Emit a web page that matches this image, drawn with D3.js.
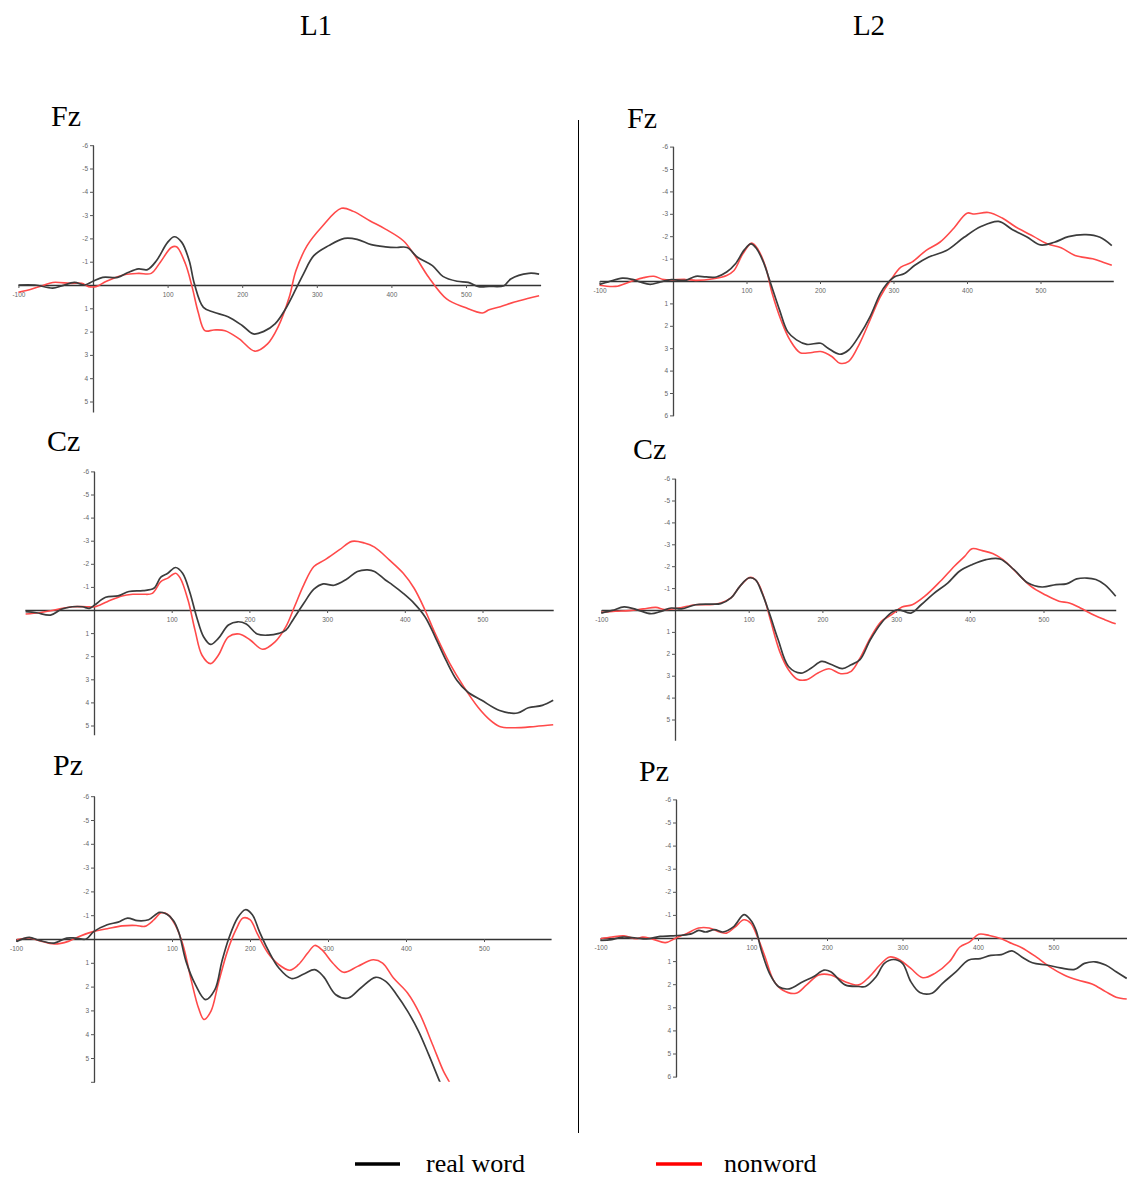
<!DOCTYPE html>
<html>
<head>
<meta charset="utf-8">
<script src="https://cdn.jsdelivr.net/npm/d3@7/dist/d3.min.js"></script>
<style>
  html, body { margin: 0; padding: 0; background: #fff; }
  svg { display: block; }
</style>
</head>
<body>
<svg id="chart" width="1127" height="1178"></svg>
<script>
// ERP waveforms, amplitude in µV (negative plotted up), time in ms.
// Each series is a list of [time, amplitude] samples.

const groups = ["L1", "L2"];
const electrodes = ["Fz", "Cz", "Pz"];
const legendLabels = ["real word", "nonword"];
const xTickValues = [-100, 100, 200, 300, 400, 500];

const l1FzReal = [[-100,0],[-78,0],[-54,0.13],[-42,0.04],[-25,-0.11],[-11,0],[0,-0.16],[13,-0.33],[33,-0.33],[47,-0.54],[61,-0.69],[73,-0.66],[85,-1.04],[100,-1.83],[109,-2.07],[119,-1.83],[129,-1.04],[136,-0.04],[148,0.96],[162,1.17],[181,1.36],[200,1.74],[215,2.1],[229,1.99],[244,1.67],[258,1.03],[272,0.17],[282,-0.47],[296,-1.26],[316,-1.69],[337,-2.0],[354,-1.96],[373,-1.73],[392,-1.64],[407,-1.61],[421,-1.61],[435,-1.19],[455,-0.83],[469,-0.37],[488,-0.16],[503,-0.11],[517,0.07],[531,0.06],[551,0.03],[560,-0.26],[584,-0.5],[598,-0.47]];
const l1FzNon = [[-100,0.31],[-82,0.17],[-68,0.03],[-54,-0.11],[-30,-0.07],[-15,-0.07],[-6,0.07],[4,0.07],[18,-0.16],[42,-0.44],[61,-0.5],[78,-0.5],[90,-0.97],[105,-1.61],[112,-1.64],[124,-0.9],[133,0.1],[141,1.17],[150,1.96],[162,1.93],[177,1.96],[196,2.31],[217,2.84],[234,2.53],[248,1.81],[263,0.53],[272,-0.61],[287,-1.69],[306,-2.47],[333,-3.29],[349,-3.16],[371,-2.76],[392,-2.4],[416,-1.9],[430,-1.33],[450,-0.33],[474,0.6],[498,0.96],[522,1.2],[531,1.06],[546,0.93],[565,0.73],[584,0.57],[598,0.46]];

const l1CzReal = [[-88,0.07],[-74,0.12],[-56,0.22],[-42,-0.03],[-28,-0.14],[-15,-0.14],[-6,-0.07],[1,-0.22],[15,-0.55],[31,-0.61],[45,-0.8],[63,-0.84],[77,-0.94],[86,-1.42],[95,-1.59],[105,-1.84],[114,-1.59],[123,-0.8],[132,0.29],[141,1.16],[150,1.49],[160,1.23],[173,0.65],[185,0.51],[196,0.61],[210,1.04],[224,1.09],[238,1.01],[247,0.87],[256,0.43],[270,-0.29],[283,-0.9],[295,-1.13],[309,-1.07],[325,-1.33],[339,-1.67],[352,-1.74],[361,-1.67],[375,-1.3],[384,-1.09],[398,-0.72],[412,-0.29],[426,0.29],[439,1.16],[453,2.17],[467,3.04],[481,3.55],[499,3.91],[522,4.35],[545,4.46],[559,4.23],[577,4.13],[591,3.91]];
const l1CzNon = [[-88,0.17],[-70,0.12],[-51,0],[-28,-0.14],[-10,-0.14],[1,-0.14],[17,-0.36],[36,-0.61],[50,-0.68],[63,-0.68],[75,-0.72],[86,-1.23],[95,-1.38],[105,-1.59],[111,-1.38],[121,-0.43],[130,0.87],[139,1.96],[150,2.32],[160,1.96],[173,1.16],[187,1.04],[201,1.3],[217,1.7],[233,1.38],[247,0.72],[258,-0.14],[270,-1.09],[283,-1.88],[297,-2.17],[316,-2.61],[332,-2.97],[348,-2.9],[361,-2.72],[380,-2.17],[398,-1.59],[412,-0.94],[426,0],[439,1.01],[458,2.32],[476,3.33],[494,4.2],[508,4.71],[522,5.04],[541,5.1],[568,5.04],[591,4.97]];

const l1PzReal = [[-99,0.1],[-83,-0.07],[-70,0.06],[-51,0.17],[-35,-0.04],[-24,-0.04],[-10,0],[0,-0.32],[17,-0.6],[31,-0.71],[43,-0.88],[56,-0.77],[70,-0.81],[84,-1.12],[93,-1.05],[102,-0.77],[109,-0.25],[118,0.94],[130,1.92],[143,2.55],[155,2.13],[164,0.94],[173,-0.04],[184,-0.88],[194,-1.23],[203,-1.02],[212,-0.32],[223,0.45],[237,1.22],[253,1.66],[269,1.47],[283,1.29],[294,1.57],[310,2.34],[326,2.48],[342,2.06],[361,1.61],[374,1.78],[388,2.34],[402,3.03],[416,3.87],[429,4.85],[443,5.97],[450,6.5]];
const l1PzNon = [[-99,0.03],[-83,-0.04],[-70,0.07],[-51,0.21],[-33,0.1],[-19,-0.11],[0,-0.32],[17,-0.43],[36,-0.55],[54,-0.57],[65,-0.53],[77,-0.81],[86,-1.1],[95,-1.02],[104,-0.6],[114,0.24],[125,1.78],[134,2.9],[141,3.38],[150,3.03],[159,1.92],[171,0.52],[182,-0.39],[191,-0.88],[200,-0.81],[210,-0.18],[223,0.59],[237,1.08],[251,1.31],[262,1.08],[274,0.59],[283,0.27],[292,0.45],[306,1.01],[320,1.4],[338,1.15],[358,0.87],[370,1.01],[384,1.64],[402,2.27],[418,3.17],[434,4.43],[448,5.55],[456,6.04],[462,6.6]];

const l2FzReal = [[-100,0.15],[-88,0.04],[-69,-0.13],[-55,-0.07],[-45,0.04],[-31,0.15],[-17,0.04],[-2,-0.06],[17,-0.03],[31,-0.21],[45,-0.18],[59,-0.18],[73,-0.4],[85,-0.77],[97,-1.39],[106,-1.66],[114,-1.43],[123,-0.84],[133,0.12],[145,1.3],[156,2.26],[168,2.63],[182,2.83],[201,2.78],[211,3.0],[227,3.27],[239,3.08],[254,2.41],[268,1.6],[282,0.56],[291,0.12],[301,-0.18],[315,-0.33],[329,-0.7],[348,-1.07],[372,-1.36],[396,-1.95],[419,-2.43],[443,-2.66],[462,-2.29],[481,-1.98],[500,-1.61],[519,-1.73],[538,-1.98],[562,-2.07],[581,-1.95],[597,-1.58]];
const l2FzNon = [[-100,0.19],[-78,0.24],[-59,0.04],[-40,-0.15],[-26,-0.21],[-12,-0.06],[17,-0.07],[31,-0.03],[55,-0.1],[73,-0.25],[83,-0.47],[95,-1.21],[107,-1.69],[116,-1.39],[126,-0.62],[135,0.56],[147,1.75],[159,2.63],[173,3.2],[187,3.2],[201,3.15],[216,3.37],[227,3.67],[239,3.59],[254,2.78],[268,1.75],[282,0.71],[296,-0.03],[310,-0.62],[325,-0.84],[344,-1.36],[363,-1.73],[381,-2.32],[400,-3.03],[410,-2.99],[429,-3.06],[448,-2.81],[467,-2.4],[491,-1.98],[509,-1.66],[528,-1.48],[547,-1.14],[571,-0.99],[585,-0.84],[597,-0.7]];

const l2CzReal = [[-100,0.14],[-85,0.02],[-69,-0.14],[-52,-0.02],[-33,0.17],[-19,0.06],[-5,-0.09],[9,-0.05],[28,-0.24],[47,-0.27],[62,-0.29],[76,-0.55],[88,-1.08],[100,-1.46],[109,-1.39],[118,-0.78],[128,0.14],[140,1.36],[154,2.58],[171,2.88],[185,2.65],[199,2.35],[213,2.5],[227,2.68],[239,2.5],[251,2.27],[265,1.36],[280,0.59],[294,0.11],[303,-0.02],[320,0.14],[334,-0.24],[351,-0.75],[370,-1.23],[386,-1.77],[403,-2.07],[422,-2.3],[441,-2.33],[460,-1.84],[479,-1.23],[498,-1.05],[517,-1.16],[531,-1.19],[545,-1.42],[559,-1.46],[571,-1.39],[583,-1.16],[598,-0.63]];
const l2CzNon = [[-100,0.11],[-81,0.06],[-62,0.03],[-43,-0.05],[-26,-0.12],[-14,-0.02],[5,-0.09],[28,-0.24],[47,-0.24],[62,-0.32],[76,-0.55],[88,-1.08],[102,-1.49],[111,-1.31],[121,-0.55],[130,0.52],[142,1.89],[154,2.73],[166,3.16],[178,3.19],[194,2.88],[209,2.68],[225,2.91],[239,2.8],[251,2.2],[265,1.28],[280,0.52],[294,0.21],[308,-0.14],[322,-0.24],[339,-0.63],[360,-1.31],[379,-2.0],[393,-2.45],[403,-2.8],[417,-2.71],[431,-2.58],[445,-2.3],[464,-1.69],[483,-1.08],[502,-0.7],[521,-0.4],[535,-0.32],[550,-0.09],[569,0.24],[583,0.44],[598,0.63]];

const l2PzReal = [[-100,0.1],[-85,0.07],[-71,-0.04],[-53,0],[-39,0.04],[-21,-0.07],[-7,-0.09],[7,-0.12],[21,-0.19],[30,-0.33],[39,-0.26],[51,-0.36],[62,-0.26],[76,-0.48],[90,-1.01],[99,-0.77],[106,-0.33],[113,0.53],[124,1.54],[136,2.11],[150,2.2],[168,1.89],[182,1.68],[196,1.39],[205,1.46],[224,2.03],[242,2.1],[251,2.1],[265,1.68],[276,1.1],[288,0.93],[300,1.1],[311,1.89],[323,2.36],[339,2.39],[353,1.96],[371,1.46],[387,0.96],[403,0.89],[417,0.75],[431,0.72],[445,0.56],[458,0.82],[472,1.07],[491,1.17],[509,1.29],[528,1.36],[541,1.1],[555,1.03],[569,1.17],[583,1.46],[597,1.75]];
const l2PzNon = [[-100,0.03],[-85,-0.04],[-69,-0.09],[-53,0.03],[-44,-0.04],[-30,0.06],[-14,0.2],[0,0],[14,-0.19],[30,-0.43],[44,-0.43],[58,-0.26],[67,-0.21],[78,-0.47],[90,-0.79],[99,-0.64],[108,-0.04],[118,0.82],[129,1.82],[141,2.25],[159,2.39],[173,2.03],[189,1.6],[205,1.6],[224,1.89],[242,2.03],[256,1.68],[270,1.17],[283,0.82],[297,0.96],[311,1.32],[327,1.72],[343,1.53],[362,1.03],[376,0.39],[389,0.17],[401,-0.16],[415,-0.11],[431,0.03],[445,0.24],[458,0.42],[477,0.82],[495,1.25],[514,1.6],[532,1.82],[551,1.99],[569,2.32],[583,2.56],[597,2.64]];

// Layout of the six waveform panels (pixel placement of the zero points).
const panels = [
  { name: electrodes[0], real: l1FzReal, non: l1FzNon,
    xZero: 93, xPer100: 74.6, tMin: -100, tMax: 600,
    yZero: 285, yUnit: 23.3, vBottom: 5.45, yMax: 5, yLabelMax: 5, showMinus100: true,
    labelX: 51, labelY: 126 },
  { name: electrodes[1], real: l1CzReal, non: l1CzNon,
    xZero: 94, xPer100: 77.7, tMin: -89, tMax: 591,
    yZero: 610, yUnit: 23.1, vBottom: 5.4, yMax: 5, yLabelMax: 5, showMinus100: false,
    labelX: 47, labelY: 451 },
  { name: electrodes[2], real: l1PzReal, non: l1PzNon,
    xZero: 94, xPer100: 78, tMin: -100, tMax: 586,
    yZero: 939, yUnit: 23.8, vBottom: 6, yMax: 6, yLabelMax: 5, showMinus100: true,
    labelX: 53, labelY: 775 },
  { name: electrodes[0], real: l2FzReal, non: l2FzNon,
    xZero: 673, xPer100: 73.5, tMin: -100, tMax: 599,
    yZero: 281, yUnit: 22.4, vBottom: 6, yMax: 6, yLabelMax: 6, showMinus100: true,
    labelX: 627, labelY: 128 },
  { name: electrodes[1], real: l2CzReal, non: l2CzNon,
    xZero: 675, xPer100: 73.7, tMin: -100, tMax: 598,
    yZero: 610, yUnit: 21.9, vBottom: 5.95, yMax: 5, yLabelMax: 5, showMinus100: true,
    labelX: 633, labelY: 459 },
  { name: electrodes[2], real: l2PzReal, non: l2PzNon,
    xZero: 676, xPer100: 75.5, tMin: -100, tMax: 597,
    yZero: 938, yUnit: 23.1, vBottom: 6, yMax: 6, yLabelMax: 6, showMinus100: true,
    labelX: 639, labelY: 781 }
];

const svg = d3.select("#chart");
const serif = "'Liberation Serif', 'Times New Roman', serif";
const sans = "'Liberation Sans', Arial, sans-serif";

// Column headers
svg.selectAll("text.group")
  .data(groups)
  .join("text")
  .attr("class", "group")
  .attr("x", (d, i) => i === 0 ? 316 : 869)
  .attr("y", 35)
  .attr("text-anchor", "middle")
  .style("font-family", serif)
  .style("font-size", "29px")
  .attr("fill", "#000")
  .text(d => d);

// Divider between columns
svg.append("line")
  .attr("x1", 578.5).attr("x2", 578.5)
  .attr("y1", 120).attr("y2", 1133)
  .attr("stroke", "#000").attr("stroke-width", 1);

const defs = svg.append("defs");

panels.forEach((p, i) => {
  const x = d3.scaleLinear()
    .domain([p.tMin, p.tMax])
    .range([p.xZero + p.tMin * p.xPer100 / 100, p.xZero + p.tMax * p.xPer100 / 100]);
  const y = d3.scaleLinear()
    .domain([-6, p.vBottom])
    .range([p.yZero - 6 * p.yUnit, p.yZero + p.vBottom * p.yUnit]);

  const g = svg.append("g");

  // Electrode name
  g.append("text")
    .attr("x", p.labelX).attr("y", p.labelY)
    .style("font-family", serif)
    .style("font-size", "30px")
    .attr("fill", "#000")
    .text(p.name);

  // Amplitude axis
  const yTicks = d3.range(-6, p.yMax + 1).filter(v => v !== 0);
  const yAxis = d3.axisLeft(y)
    .tickValues(yTicks)
    .tickSize(3)
    .tickSizeOuter(0)
    .tickPadding(2)
    .tickFormat(d => d > p.yLabelMax ? "" : String(d));
  const ya = g.append("g")
    .attr("transform", `translate(${p.xZero},0)`)
    .call(yAxis);
  ya.select(".domain").attr("stroke", "#444").attr("stroke-width", 1.3);
  ya.selectAll(".tick line").attr("stroke", "#555").attr("x2", -3).attr("x1", 1);
  ya.selectAll(".tick text")
    .style("font-family", sans).style("font-size", "6.5px").attr("fill", "#666");

  // Time axis along the zero line
  const xt = xTickValues.filter(t => t >= p.tMin && (p.showMinus100 || t > 0));
  const xAxis = d3.axisBottom(x)
    .tickValues(xt)
    .tickSize(3)
    .tickSizeOuter(0)
    .tickPadding(4)
    .tickFormat(d => String(d));
  const xa = g.append("g")
    .attr("transform", `translate(0,${p.yZero})`)
    .call(xAxis);
  xa.select(".domain").attr("stroke", "#333").attr("stroke-width", 1.3);
  xa.selectAll(".tick line").attr("stroke", "#555");
  xa.selectAll(".tick text")
    .style("font-family", sans).style("font-size", "6.5px").attr("fill", "#666");

  // Clip waveforms to the plotting area
  const clipId = "clip" + i;
  defs.append("clipPath").attr("id", clipId)
    .append("rect")
    .attr("x", x(p.tMin) - 2)
    .attr("y", y(-6))
    .attr("width", x(p.tMax) - x(p.tMin) + 4)
    .attr("height", y(p.vBottom) - y(-6));

  const line = d3.line()
    .x(d => x(d[0]))
    .y(d => y(d[1]))
    .curve(d3.curveCatmullRom.alpha(0.5));

  const lines = g.append("g").attr("clip-path", `url(#${clipId})`);
  lines.append("path")
    .datum(p.non)
    .attr("d", line)
    .attr("fill", "none")
    .attr("stroke", "#ff4a4a")
    .attr("stroke-width", 1.6)
    .attr("stroke-linejoin", "round");
  lines.append("path")
    .datum(p.real)
    .attr("d", line)
    .attr("fill", "none")
    .attr("stroke", "#3c3c3c")
    .attr("stroke-width", 1.7)
    .attr("stroke-linejoin", "round");
});

// Legend
const legend = svg.append("g");
const legendItems = [
  { label: legendLabels[0], color: "#000", x1: 355, x2: 400, tx: 426 },
  { label: legendLabels[1], color: "#ff0000", x1: 656, x2: 702, tx: 724 }
];
legendItems.forEach(it => {
  legend.append("line")
    .attr("x1", it.x1).attr("x2", it.x2)
    .attr("y1", 1164).attr("y2", 1164)
    .attr("stroke", it.color).attr("stroke-width", 3.5);
  legend.append("text")
    .attr("x", it.tx).attr("y", 1172)
    .style("font-family", serif)
    .style("font-size", "26px")
    .attr("fill", "#000")
    .text(it.label);
});
</script>
</body>
</html>
